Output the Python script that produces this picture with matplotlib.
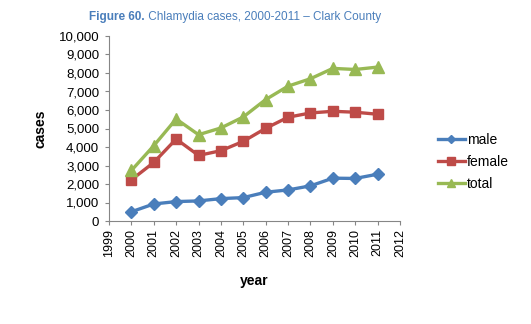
import matplotlib
matplotlib.use("Agg")
import matplotlib.pyplot as plt
from matplotlib.ticker import FuncFormatter, MultipleLocator

# ── data ──────────────────────────────────────────────────────────────────────
YEARS  = [2000, 2001, 2002, 2003, 2004, 2005, 2006, 2007, 2008, 2009, 2010, 2011]
MALE   = [500, 920, 1050, 1085, 1210, 1265, 1555, 1680, 1900, 2315, 2300, 2530]
FEMALE = [2225, 3165, 4430, 3545, 3800, 4305, 5010, 5610, 5840, 5930, 5880, 5770]
TOTAL  = [2730, 4070, 5515, 4665, 5030, 5625, 6565, 7290, 7690, 8250, 8190, 8320]
XTICKS = list(range(1999, 2013))

plt.rcParams["font.family"] = ["Liberation Sans", "DejaVu Sans"]

fig = plt.figure(figsize=(5.31, 3.24), dpi=100)
ax = fig.add_axes([109 / 531, 1 - 221 / 324, 291 / 531, 185 / 324])

ax.plot(YEARS, MALE, color="#4a7ebb", lw=2.4, marker="D", ms=6.5, label="male")
ax.plot(YEARS, FEMALE, color="#be4b48", lw=2.4, marker="s", ms=7.5, label="female")
ax.plot(YEARS, TOTAL, color="#98b954", lw=2.4, marker="^", ms=8.5, label="total")

ax.set_xlim(1999, 2012)
ax.set_ylim(0, 10000)
ax.set_xticks(XTICKS)
ax.set_xticklabels([str(y) for y in XTICKS], rotation=90, fontsize=9)
ax.yaxis.set_major_locator(MultipleLocator(1000))
ax.yaxis.set_major_formatter(FuncFormatter(lambda v, p: f"{int(v):,}"))
ax.tick_params(axis="y", labelsize=9.5, direction="out", length=3, color="#868686", pad=4)
ax.tick_params(axis="x", direction="out", length=3, color="#868686", pad=3)
for s in ["top", "right"]:
    ax.spines[s].set_visible(False)
for s in ["left", "bottom"]:
    ax.spines[s].set_color("#868686")
    ax.spines[s].set_linewidth(0.8)

ax.set_ylabel("cases", fontsize=10, fontweight="bold", labelpad=8)
ax.set_xlabel("year", fontsize=10, fontweight="bold", labelpad=12)

leg = fig.legend(loc="center left", bbox_to_anchor=(425 / 531, 1 - 162 / 324),
                 frameon=False, fontsize=10, handlelength=2.0, labelspacing=0.6,
                 handletextpad=0.1, markerscale=0.7)

fig.text(145 / 531, 1 - 17 / 324, "Figure 60.", color="#4a7ebb", fontsize=8.5,
         fontweight="bold", ha="right", va="center")
fig.text(145 / 531, 1 - 17 / 324, " Chlamydia cases, 2000-2011 \u2013 Clark County",
         color="#4a7ebb", fontsize=8.5, ha="left", va="center")

fig.savefig("out.png", dpi=100)
